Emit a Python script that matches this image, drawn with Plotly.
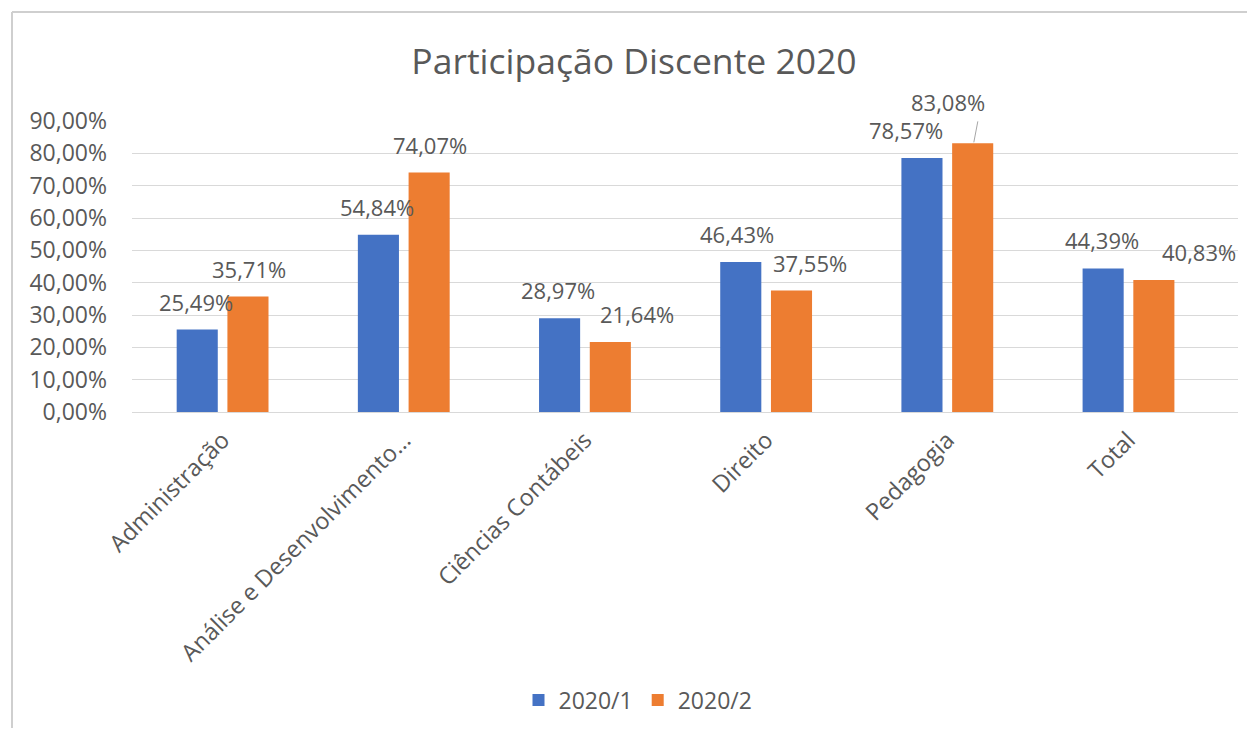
import plotly.graph_objects as go

categories = ["Administração", "Análise e Desenvolvimento…", "Ciências Contábeis",
              "Direito", "Pedagogia", "Total"]
series_names = ["2020/1", "2020/2"]
values_2020_1 = [0.2549, 0.5484, 0.2897, 0.4643, 0.7857, 0.4439]
values_2020_2 = [0.3571, 0.7407, 0.2164, 0.3755, 0.8308, 0.4083]
y_ticks = [0, 0.1, 0.2, 0.3, 0.4, 0.5, 0.6, 0.7, 0.8, 0.9]

# label nudges (style only), in pixels, mimicking the manual label placement
label_dx_1 = [0, 0, 0, -3, -15, 0]
label_dx_2 = [0, 0, 26, 17, -26, 44]
label_dy_2 = [28, 28, 28, 28, 41, 28]

BLUE = "#4472C4"
ORANGE = "#ED7D31"
GREY_TXT = "#595959"
FONT = "Open Sans"

# page has an 8px body margin; figure sized to fit the viewport
W, H = 1239, 720
L, T, PW, PH = 124, 113, 1106, 291
R = W - L - PW
B = H - T - PH

fig = go.Figure()
fig.add_trace(go.Bar(x=categories, y=values_2020_1, name=series_names[0],
                     marker=dict(color=BLUE, line=dict(width=0))))
fig.add_trace(go.Bar(x=categories, y=values_2020_2, name=series_names[1],
                     marker=dict(color=ORANGE, line=dict(width=0))))

def fmt(v):
    return f"{v*100:.2f}%".replace(".", ",")

annotations = []
bar_off = 26.5
for i, c in enumerate(categories):
    annotations.append(dict(x=c, y=values_2020_1[i], xref="x", yref="y",
                            text=fmt(values_2020_1[i]), showarrow=False,
                            xshift=-bar_off + label_dx_1[i], yshift=28,
                            yanchor="middle", xanchor="center",
                            font=dict(family=FONT, size=22, color=GREY_TXT)))
    annotations.append(dict(x=c, y=values_2020_2[i], xref="x", yref="y",
                            text=fmt(values_2020_2[i]), showarrow=False,
                            xshift=bar_off + label_dx_2[i], yshift=label_dy_2[i],
                            yanchor="middle", xanchor="center",
                            font=dict(family=FONT, size=22, color=GREY_TXT)))

fig.update_layout(
    width=W, height=H,
    margin=dict(l=L, r=R, t=T, b=B, pad=0, autoexpand=False),
    paper_bgcolor="white", plot_bgcolor="white",
    separators=",.",
    barmode="group", bargap=0.44, bargroupgap=0.19,
    title=dict(text="Participação Discente 2020", x=(634 - 8) / W, xanchor="center",
               y=1 - 54 / H, yanchor="middle",
               font=dict(family=FONT, size=35.5, color=GREY_TXT)),
    font=dict(family=FONT, size=22, color=GREY_TXT),
    legend=dict(orientation="h", x=(638 - 8) / W, xanchor="center", xref="container",
                y=1 - 692 / H, yanchor="middle", yref="container",
                font=dict(family=FONT, size=23, color=GREY_TXT),
                itemwidth=30, tracegroupgap=0),
    annotations=annotations,
    showlegend=True,
)
fig.update_yaxes(range=[0, 0.9], tickvals=y_ticks, tickformat=".2%",
                 showgrid=True, gridcolor="#d9d9d9", gridwidth=1,
                 zeroline=True, zerolinecolor="#d9d9d9", zerolinewidth=1,
                 showline=False, ticks="", ticklen=0, ticklabelstandoff=24,
                 automargin=False,
                 tickfont=dict(family=FONT, size=23, color=GREY_TXT))
fig.update_xaxes(tickangle=-45, showline=False, ticks="outside", ticklen=4,
                 tickcolor="rgba(0,0,0,0)", automargin=False,
                 tickfont=dict(family=FONT, size=23.5, color=GREY_TXT))

# leader line for the Pedagogia 2020/2 label, anchored at the bar top
ped = categories.index("Pedagogia")
fig.add_shape(type="line", xref="x", yref="y",
              xsizemode="pixel", xanchor=categories[ped],
              ysizemode="pixel", yanchor=values_2020_2[ped],
              x0=bar_off, x1=bar_off + 4, y0=1, y1=22,
              line=dict(color="#a6a6a6", width=1))

# chart frame like the screenshot border
fy = (PH + T - 4) / PH
fig.add_shape(type="line", xref="paper", yref="paper",
              x0=(4 - L) / PW, x1=(W - L) / PW, y0=fy, y1=fy,
              line=dict(color="#cfcfcf", width=2))
fig.add_shape(type="line", xref="paper", yref="paper",
              x0=(4 - L) / PW, x1=(4 - L) / PW, y0=fy, y1=-(B) / PH,
              line=dict(color="#cfcfcf", width=2))

fig.write_html("out.html")
